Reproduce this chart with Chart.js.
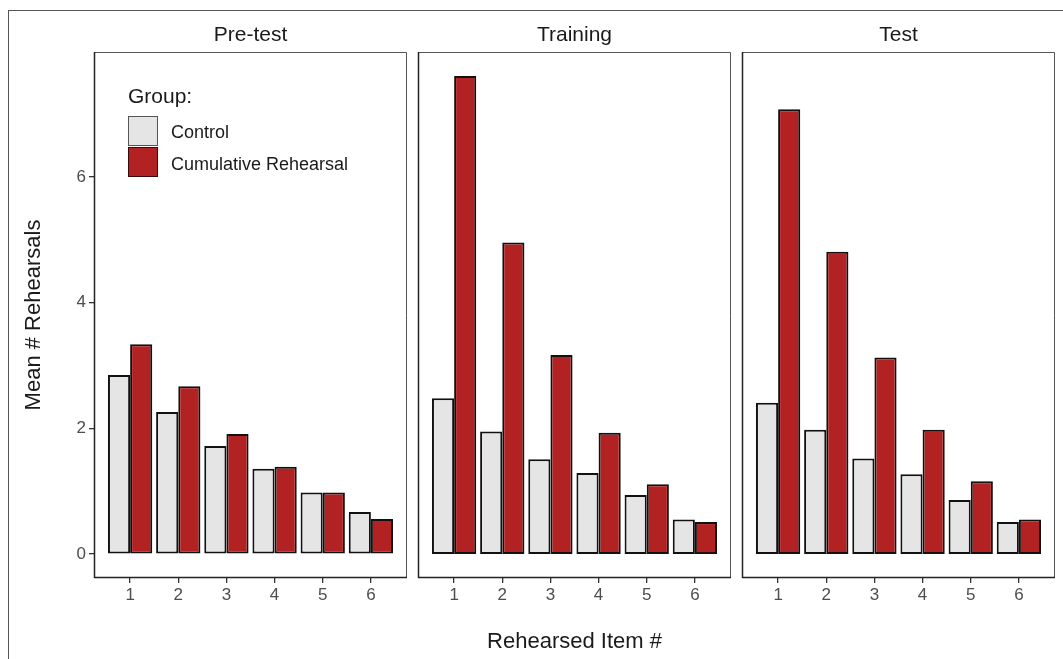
<!DOCTYPE html>
<html>
<head>
<meta charset="utf-8">
<title>Mean # Rehearsals</title>
<script src="https://cdn.jsdelivr.net/npm/chart.js@4/dist/chart.umd.min.js"></script>
<style>
body { margin: 0; background: #fff; font-family: "Liberation Sans", Arial, sans-serif; }
#frame { position: absolute; left: 8px; top: 10px; width: 1100px; height: 700px; border: 1px solid #555; }
canvas { position: absolute; top: 0; }
.legend { position: absolute; color: #1a1a1a; line-height: 1; white-space: nowrap; }
.key { position: absolute; left: 128px; width: 30px; height: 30px; box-sizing: border-box; }
</style>
</head>
<body>
<div id="frame"></div>
<canvas id="c1" width="410" height="659" style="left:0px"></canvas>
<canvas id="c2" width="319" height="659" style="left:415px"></canvas>
<canvas id="c3" width="319" height="659" style="left:739px"></canvas>

<!-- 凡例 -->
<div class="legend" style="left:128px; top:85px; font-size:21px">Group:</div>
<div class="key" style="top:116px; background:#e5e5e5; border:1.5px solid #555"></div>
<div class="key" style="top:147px; background:#b22222; border:1.5px solid #3a0a0a"></div>
<div class="legend" style="left:171px; top:123px; font-size:18px">Control</div>
<div class="legend" style="left:171px; top:155px; font-size:18px">Cumulative Rehearsal</div>

<script>
// データ
const items = [1, 2, 3, 4, 5, 6];
const yTicks = [0, 2, 4, 6];
const panels = ["Pre-test", "Training", "Test"];
const groups = ["Control", "Cumulative Rehearsal"];

const preControl = [2.85, 2.26, 1.72, 1.36, 0.98, 0.67];
const preCumulative = [3.34, 2.67, 1.91, 1.39, 0.98, 0.56];
const trainControl = [2.48, 1.95, 1.51, 1.29, 0.94, 0.55];
const trainCumulative = [7.61, 4.96, 3.17, 1.93, 1.11, 0.51];
const testControl = [2.41, 1.98, 1.52, 1.27, 0.86, 0.51];
const testCumulative = [7.08, 4.81, 3.13, 1.98, 1.16, 0.55];

const FONT = '"Liberation Sans", Arial, sans-serif';

// パネルの枠線
const panelBox = {
    id: 'panelBox',
    afterDraw(chart) {
        const ctx = chart.ctx;
        const a = chart.chartArea;
        ctx.save();
        ctx.strokeStyle = '#555';
        ctx.lineWidth = 1;
        ctx.beginPath();
        ctx.moveTo(a.left, a.top + 0.5);
        ctx.lineTo(a.right - 0.5, a.top + 0.5);
        ctx.lineTo(a.right - 0.5, a.bottom);
        ctx.stroke();
        ctx.strokeStyle = '#222';
        ctx.lineWidth = 1.5;
        ctx.beginPath();
        ctx.moveTo(a.left + 0.5, a.top);
        ctx.lineTo(a.left + 0.5, a.bottom - 0.5);
        ctx.lineTo(a.right, a.bottom - 0.5);
        ctx.stroke();
        ctx.restore();
    }
};

function toPoints(values) {
    return items.map((x, i) => ({ x: x, y: values[i] }));
}

function makeChart(id, title, control, cumulative, first, showXTitle) {
    new Chart(document.getElementById(id), {
        type: 'bar',
        data: {
            datasets: [
                { label: groups[0], data: toPoints(control), backgroundColor: '#e5e5e5' },
                { label: groups[1], data: toPoints(cumulative), backgroundColor: '#b22222' }
            ]
        },
        options: {
            responsive: false,
            animation: false,
            layout: { padding: { left: first ? 0 : 3, right: 3, top: 0, bottom: 0 } },
            datasets: {
                bar: {
                    categoryPercentage: 0.92,
                    barPercentage: 1,
                    borderColor: '#111',
                    borderWidth: 2,
                    borderSkipped: false
                }
            },
            plugins: {
                legend: { display: false },
                tooltip: { enabled: false },
                title: {
                    display: true,
                    fullSize: false,
                    text: title,
                    color: '#1a1a1a',
                    font: { size: 21, family: FONT, weight: 'normal' },
                    padding: { top: 23, bottom: 3.8 }
                }
            },
            scales: {
                x: {
                    type: 'linear',
                    min: 0.25,
                    max: 6.75,
                    offset: false,
                    afterBuildTicks: s => { s.ticks = items.map(v => ({ value: v })); },
                    afterFit: s => { s.height = 81; },
                    grid: { offset: false, drawOnChartArea: false, drawTicks: true, tickLength: 5, tickColor: '#333', lineWidth: 1.3 },
                    border: { display: false },
                    ticks: { color: '#4d4d4d', font: { size: 17, family: FONT }, padding: 2, autoSkip: false, maxRotation: 0 },
                    title: {
                        display: showXTitle,
                        text: 'Rehearsed Item #',
                        color: '#1a1a1a',
                        font: { size: 22, family: FONT },
                        padding: { top: 0, bottom: 4 }
                    }
                },
                y: {
                    display: first,
                    min: -0.38,
                    max: 7.99,
                    afterBuildTicks: s => { s.ticks = yTicks.map(v => ({ value: v })); },
                    afterFit: s => { s.width = first ? 94 : 0; },
                    grid: { drawOnChartArea: false, drawTicks: true, tickLength: 5, tickColor: '#333', lineWidth: 1.3 },
                    border: { display: false },
                    ticks: { color: '#4d4d4d', font: { size: 17, family: FONT }, padding: 3 },
                    title: {
                        display: true,
                        text: 'Mean # Rehearsals',
                        color: '#1a1a1a',
                        font: { size: 22, family: FONT },
                        padding: { top: 21, bottom: 0 }
                    }
                }
            }
        },
        plugins: [panelBox]
    });
}

makeChart('c1', panels[0], preControl, preCumulative, true, false);
makeChart('c2', panels[1], trainControl, trainCumulative, false, true);
makeChart('c3', panels[2], testControl, testCumulative, false, false);
</script>
</body>
</html>
